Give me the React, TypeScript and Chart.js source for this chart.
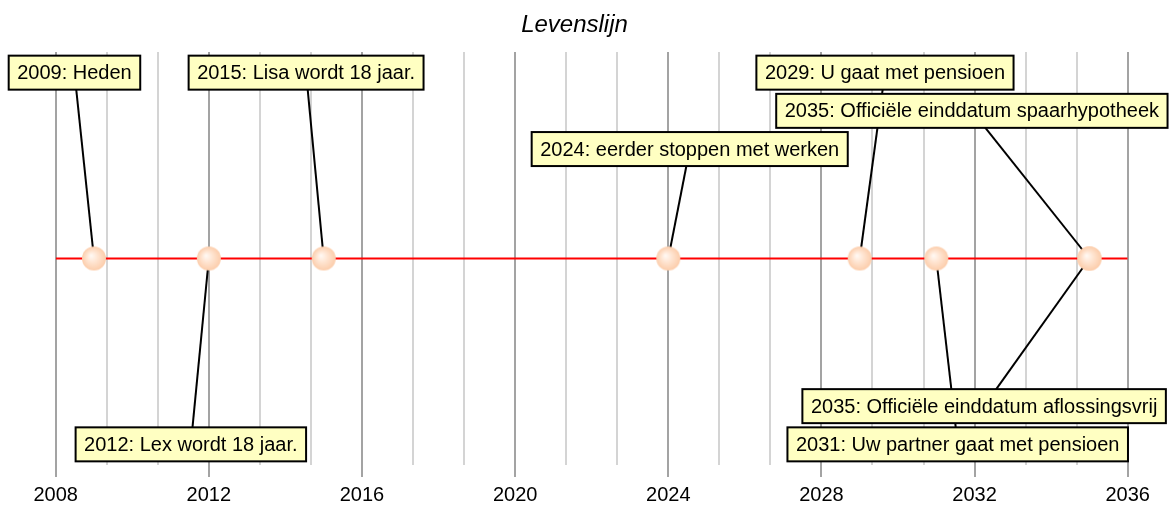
import React, { useEffect, useRef } from 'react';
import { Chart, registerables } from 'chart.js';

Chart.register(...registerables);

// ---- data ----
const eventYears = [2009, 2012, 2015, 2024, 2029, 2031, 2035, 2035];
const eventTexts = [
  'Heden',
  'Lex wordt 18 jaar.',
  'Lisa wordt 18 jaar.',
  'eerder stoppen met werken',
  'U gaat met pensioen',
  'Uw partner gaat met pensioen',
  'Officiële einddatum spaarhypotheek',
  'Officiële einddatum aflossingsvrij',
];
const timelineYears = [2008, 2036];
const tickLabelStep = 4;
const gridStep = 4 / 3;
const chartTitle = 'Levenslijn';

// ---- label layout (callout anchor in years, level in -1..1) ----
const labelAnchorYears = [2008.49, 2011.53, 2014.54, 2024.56, 2029.66, 2031.56, 2031.93, 2032.25];
const labelLevels = [0.9, -0.9, 0.9, 0.53, 0.9, -0.9, 0.715, -0.715];

const FONT_FAMILY = '"Liberation Sans", Arial, Helvetica, sans-serif';
const LABEL_FONT = `20px ${FONT_FAMILY}`;
const BOX_PAD_X = 8.5;
const BOX_H = 34;
const BOX_FILL = '#ffffc2';
const MAJOR_GRID = '#a3a3a3';
const MINOR_GRID = '#d4d4d4';

const isMajor = (v: number) => {
  const r = Math.round(v);
  return Math.abs(v - r) < 1e-6 && r % tickLabelStep === 0;
};

function makeSphere(): HTMLCanvasElement {
  const size = 26;
  const c = document.createElement('canvas');
  c.width = size;
  c.height = size;
  const g = c.getContext('2d')!;
  const cx = size / 2;
  const cy = size / 2;
  const r = 12;
  const grad = g.createRadialGradient(cx - 3, cy - 3, 0, cx, cy, r);
  grad.addColorStop(0, '#fffaf6');
  grad.addColorStop(0.45, '#ffe5d2');
  grad.addColorStop(1, '#fccdab');
  g.fillStyle = grad;
  g.beginPath();
  g.arc(cx, cy, r, 0, Math.PI * 2);
  g.fill();
  return c;
}

const calloutPlugin = {
  id: 'callouts',
  beforeDatasetsDraw(chart: any) {
    const { ctx } = chart;
    const x = chart.scales.x;
    const y = chart.scales.y;
    ctx.save();
    ctx.font = LABEL_FONT;
    const boxes = eventYears.map((yr, i) => {
      const label = `${yr}: ${eventTexts[i]}`;
      const w = ctx.measureText(label).width + 2 * BOX_PAD_X;
      return {
        label,
        w,
        cx: x.getPixelForValue(labelAnchorYears[i]),
        cy: y.getPixelForValue(labelLevels[i]),
        px: x.getPixelForValue(yr),
        py: y.getPixelForValue(0),
      };
    });
    ctx.strokeStyle = '#000';
    ctx.lineWidth = 2;
    boxes.forEach((b) => {
      ctx.beginPath();
      ctx.moveTo(b.cx, b.cy);
      ctx.lineTo(b.px, b.py);
      ctx.stroke();
    });
    boxes.forEach((b) => {
      const left = b.cx - b.w / 2;
      const top = b.cy - BOX_H / 2;
      ctx.fillStyle = BOX_FILL;
      ctx.fillRect(left, top, b.w, BOX_H);
      ctx.strokeRect(left, top, b.w, BOX_H);
      ctx.fillStyle = '#000';
      ctx.textAlign = 'center';
      ctx.textBaseline = 'middle';
      ctx.fillText(b.label, b.cx, b.cy + 1);
    });
    ctx.restore();
  },
  afterDraw(chart: any) {
    const { ctx } = chart;
    ctx.save();
    ctx.font = `italic 24px ${FONT_FAMILY}`;
    ctx.fillStyle = '#000';
    ctx.textAlign = 'center';
    ctx.textBaseline = 'alphabetic';
    ctx.fillText(chartTitle, 574.5, 32);
    ctx.restore();
  },
};

export default function App() {
  const ref = useRef<HTMLCanvasElement | null>(null);

  useEffect(() => {
    if (!ref.current) return;
    const sphere = makeSphere();
    const chart = new Chart(ref.current, {
      type: 'scatter',
      data: {
        datasets: [
          {
            label: 'events',
            data: eventYears.map((yr) => ({ x: yr, y: 0 })),
            pointStyle: sphere as any,
            pointRadius: 12,
            showLine: false,
            order: 0,
          },
          {
            label: 'timeline',
            data: timelineYears.map((yr) => ({ x: yr, y: 0 })),
            showLine: true,
            borderColor: '#ff0000',
            borderWidth: 2,
            pointRadius: 0,
            order: 1,
          },
        ],
      },
      options: {
        animation: false,
        responsive: false,
        events: [],
        layout: { padding: { top: 52, left: 55.7, right: 41.3, bottom: -8 } },
        plugins: {
          legend: { display: false },
          title: { display: false },
          tooltip: { enabled: false },
        },
        scales: {
          x: {
            type: 'linear',
            min: timelineYears[0],
            max: timelineYears[1],
            afterBuildTicks: (axis: any) => {
              const n = Math.round((timelineYears[1] - timelineYears[0]) / gridStep);
              axis.ticks = Array.from({ length: n + 1 }, (_, i) => ({
                value: timelineYears[0] + i * gridStep,
              }));
            },
            border: { display: false },
            grid: {
              color: (c: any) => (c.tick && isMajor(c.tick.value) ? MAJOR_GRID : MINOR_GRID),
              tickColor: (c: any) => (c.tick && isMajor(c.tick.value) ? MAJOR_GRID : 'rgba(0,0,0,0)'),
              lineWidth: 2,
              tickLength: 12,
            },
            ticks: {
              autoSkip: false,
              maxRotation: 0,
              padding: 7.5,
              color: '#000',
              font: { family: FONT_FAMILY, size: 20, lineHeight: 1.1 },
              callback: (v: any) => (isMajor(Number(v)) ? String(Math.round(Number(v))) : ''),
            },
          },
          y: {
            type: 'linear',
            display: false,
            min: -1,
            max: 1,
          },
        },
      },
      plugins: [calloutPlugin],
    });
    return () => chart.destroy();
  }, []);

  return (
    <div style={{ position: 'absolute', left: 0, top: 0, width: 1169, height: 506, background: '#fff' }}>
      <canvas ref={ref} width={1169} height={506} style={{ display: 'block' }} />
    </div>
  );
}
